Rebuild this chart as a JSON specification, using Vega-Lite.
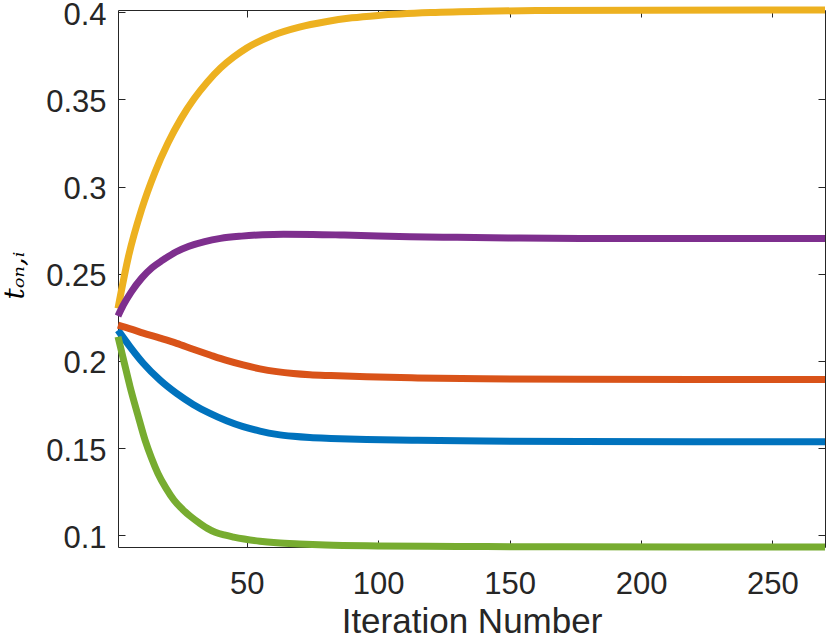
{
  "$schema": "https://vega.github.io/schema/vega-lite/v6.json",
  "width": 707,
  "height": 537,
  "autosize": {"type": "none"},
  "padding": {"left": 118, "top": 10, "right": 5, "bottom": 93},
  "background": "white",
  "config": {
    "view": {"stroke": "#262626", "strokeWidth": 1},
    "axis": {
      "grid": false,
      "domain": false,
      "tickColor": "#262626",
      "tickSize": -7,
      "tickWidth": 1,
      "labelFont": "Liberation Sans",
      "labelFontSize": 31,
      "labelColor": "#262626",
      "labelFlush": false,
      "labelOverlap": false,
      "labelBound": false
    }
  },
  "data": {
    "values": [
      {"series": "s1", "iter": 1, "v": 0.2177},
      {"series": "s1", "iter": 5.6, "v": 0.2081},
      {"series": "s1", "iter": 10.6, "v": 0.1987},
      {"series": "s1", "iter": 17, "v": 0.1890},
      {"series": "s1", "iter": 23.3, "v": 0.1814},
      {"series": "s1", "iter": 29.6, "v": 0.1751},
      {"series": "s1", "iter": 36, "v": 0.1699},
      {"series": "s1", "iter": 42.3, "v": 0.1657},
      {"series": "s1", "iter": 48.6, "v": 0.1623},
      {"series": "s1", "iter": 55, "v": 0.1598},
      {"series": "s1", "iter": 61.4, "v": 0.1579},
      {"series": "s1", "iter": 67.7, "v": 0.1568},
      {"series": "s1", "iter": 74, "v": 0.1561},
      {"series": "s1", "iter": 82, "v": 0.1556},
      {"series": "s1", "iter": 95.6, "v": 0.1550},
      {"series": "s1", "iter": 115, "v": 0.1545},
      {"series": "s1", "iter": 140, "v": 0.1541},
      {"series": "s1", "iter": 177, "v": 0.1538},
      {"series": "s1", "iter": 220, "v": 0.1537},
      {"series": "s1", "iter": 270, "v": 0.1537},

      {"series": "s2", "iter": 1, "v": 0.2206},
      {"series": "s2", "iter": 6, "v": 0.2183},
      {"series": "s2", "iter": 10.6, "v": 0.2160},
      {"series": "s2", "iter": 17, "v": 0.2131},
      {"series": "s2", "iter": 23.3, "v": 0.2101},
      {"series": "s2", "iter": 29.6, "v": 0.2067},
      {"series": "s2", "iter": 36, "v": 0.2034},
      {"series": "s2", "iter": 42.3, "v": 0.2003},
      {"series": "s2", "iter": 48.6, "v": 0.1977},
      {"series": "s2", "iter": 55, "v": 0.1955},
      {"series": "s2", "iter": 61.4, "v": 0.1939},
      {"series": "s2", "iter": 67.7, "v": 0.1928},
      {"series": "s2", "iter": 74, "v": 0.1921},
      {"series": "s2", "iter": 82, "v": 0.1916},
      {"series": "s2", "iter": 95.6, "v": 0.1909},
      {"series": "s2", "iter": 115, "v": 0.1903},
      {"series": "s2", "iter": 140, "v": 0.1898},
      {"series": "s2", "iter": 177, "v": 0.1895},
      {"series": "s2", "iter": 220, "v": 0.1894},
      {"series": "s2", "iter": 270, "v": 0.1894},

      {"series": "s3", "iter": 1, "v": 0.2302},
      {"series": "s3", "iter": 5, "v": 0.2600},
      {"series": "s3", "iter": 10, "v": 0.2870},
      {"series": "s3", "iter": 15, "v": 0.3080},
      {"series": "s3", "iter": 20, "v": 0.3250},
      {"series": "s3", "iter": 25, "v": 0.3390},
      {"series": "s3", "iter": 30, "v": 0.3505},
      {"series": "s3", "iter": 35, "v": 0.3600},
      {"series": "s3", "iter": 40, "v": 0.3680},
      {"series": "s3", "iter": 45, "v": 0.3743},
      {"series": "s3", "iter": 50, "v": 0.3795},
      {"series": "s3", "iter": 60, "v": 0.3868},
      {"series": "s3", "iter": 70, "v": 0.3915},
      {"series": "s3", "iter": 80, "v": 0.3946},
      {"series": "s3", "iter": 90, "v": 0.3968},
      {"series": "s3", "iter": 100, "v": 0.3982},
      {"series": "s3", "iter": 120, "v": 0.3998},
      {"series": "s3", "iter": 140, "v": 0.4006},
      {"series": "s3", "iter": 160, "v": 0.4010},
      {"series": "s3", "iter": 200, "v": 0.4012},
      {"series": "s3", "iter": 270, "v": 0.4013},

      {"series": "s4", "iter": 1, "v": 0.2258},
      {"series": "s4", "iter": 3, "v": 0.2320},
      {"series": "s4", "iter": 6, "v": 0.2395},
      {"series": "s4", "iter": 10, "v": 0.2475},
      {"series": "s4", "iter": 14, "v": 0.2535},
      {"series": "s4", "iter": 18, "v": 0.2578},
      {"series": "s4", "iter": 23, "v": 0.2625},
      {"series": "s4", "iter": 28, "v": 0.2658},
      {"series": "s4", "iter": 34, "v": 0.2685},
      {"series": "s4", "iter": 40, "v": 0.2703},
      {"series": "s4", "iter": 48, "v": 0.2716},
      {"series": "s4", "iter": 56, "v": 0.2724},
      {"series": "s4", "iter": 64, "v": 0.2727},
      {"series": "s4", "iter": 75, "v": 0.2726},
      {"series": "s4", "iter": 87, "v": 0.2722},
      {"series": "s4", "iter": 100, "v": 0.2717},
      {"series": "s4", "iter": 112, "v": 0.2713},
      {"series": "s4", "iter": 130, "v": 0.2709},
      {"series": "s4", "iter": 150, "v": 0.2706},
      {"series": "s4", "iter": 177, "v": 0.2703},
      {"series": "s4", "iter": 220, "v": 0.2702},
      {"series": "s4", "iter": 270, "v": 0.2702},

      {"series": "s5", "iter": 1, "v": 0.2139},
      {"series": "s5", "iter": 3.3, "v": 0.1995},
      {"series": "s5", "iter": 5.6, "v": 0.1852},
      {"series": "s5", "iter": 8.5, "v": 0.1693},
      {"series": "s5", "iter": 11.3, "v": 0.1546},
      {"series": "s5", "iter": 13.7, "v": 0.1445},
      {"series": "s5", "iter": 16.2, "v": 0.1355},
      {"series": "s5", "iter": 19.2, "v": 0.1272},
      {"series": "s5", "iter": 22.3, "v": 0.1202},
      {"series": "s5", "iter": 25.5, "v": 0.1150},
      {"series": "s5", "iter": 28.7, "v": 0.1107},
      {"series": "s5", "iter": 32, "v": 0.1070},
      {"series": "s5", "iter": 35, "v": 0.1040},
      {"series": "s5", "iter": 38, "v": 0.1018},
      {"series": "s5", "iter": 41.4, "v": 0.1002},
      {"series": "s5", "iter": 45, "v": 0.0990},
      {"series": "s5", "iter": 49, "v": 0.0979},
      {"series": "s5", "iter": 55, "v": 0.0966},
      {"series": "s5", "iter": 61.4, "v": 0.0957},
      {"series": "s5", "iter": 70, "v": 0.0950},
      {"series": "s5", "iter": 80, "v": 0.0944},
      {"series": "s5", "iter": 100, "v": 0.0939},
      {"series": "s5", "iter": 130, "v": 0.0936},
      {"series": "s5", "iter": 170, "v": 0.0934},
      {"series": "s5", "iter": 220, "v": 0.0933},
      {"series": "s5", "iter": 270, "v": 0.0933}
    ]
  },
  "layer": [
    {
      "mark": {"type": "line", "strokeWidth": 7, "interpolate": "monotone", "clip": false},
      "encoding": {
        "x": {
          "field": "iter",
          "type": "quantitative",
          "scale": {"domain": [1, 270], "nice": false, "zero": false},
          "axis": {
            "values": [50, 100, 150, 200, 250],
            "labelBaseline": "alphabetic",
            "labelPadding": 53,
            "title": "Iteration Number",
            "titleFont": "Liberation Sans",
            "titleFontSize": 35,
            "titleFontWeight": "normal",
            "titleColor": "#262626",
            "titleBaseline": "alphabetic",
            "titleY": 85
          }
        },
        "y": {
          "field": "v",
          "type": "quantitative",
          "scale": {"domain": [0.0933, 0.4013], "nice": false, "zero": false},
          "axis": {
            "values": [0.1, 0.15, 0.2, 0.25, 0.3, 0.35, 0.4],
            "format": ".2~f",
            "labelPadding": 19,
            "labelOffset": 3,
            "title": "tₒₙ,ᵢ",
            "titleFont": "DejaVu Serif",
            "titleFontStyle": "italic",
            "titleFontSize": 28,
            "titleFontWeight": "normal",
            "titleColor": "#000000",
            "titleAngle": 270,
            "titleAlign": "center",
            "titleBaseline": "alphabetic",
            "titleX": -95,
            "titleY": 265
          }
        },
        "color": {
          "field": "series",
          "type": "nominal",
          "scale": {
            "domain": ["s1", "s2", "s3", "s4", "s5"],
            "range": ["#0072BD", "#D95319", "#EDB120", "#7E2F8E", "#77AC30"]
          },
          "legend": null
        }
      }
    },
    {
      "mark": {"type": "line", "opacity": 0},
      "encoding": {
        "x": {
          "field": "iter",
          "type": "quantitative",
          "scale": {"domain": [1, 270], "nice": false, "zero": false},
          "axis": {"orient": "top", "values": [50, 100, 150, 200, 250], "labels": false, "title": null}
        },
        "y": {
          "field": "v",
          "type": "quantitative",
          "scale": {"domain": [0.0933, 0.4013], "nice": false, "zero": false},
          "axis": {"orient": "right", "values": [0.1, 0.15, 0.2, 0.25, 0.3, 0.35, 0.4], "labels": false, "title": null}
        },
        "detail": {"field": "series"}
      }
    }
  ],
  "resolve": {"axis": {"x": "independent", "y": "independent"}}
}
